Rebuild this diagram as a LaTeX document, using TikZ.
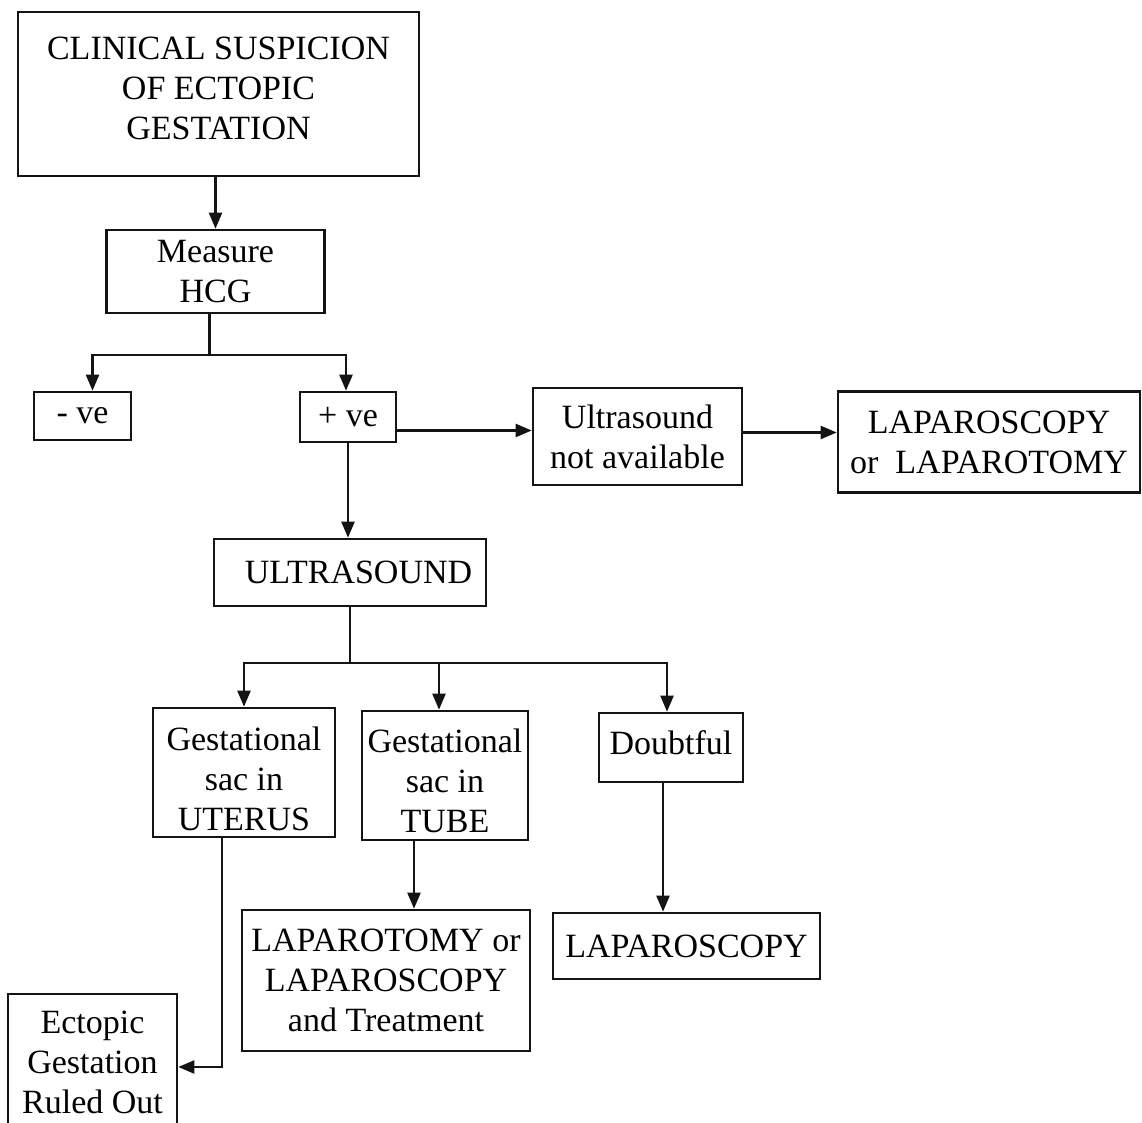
\documentclass[tikz,border=0pt]{standalone}
\usepackage{fontspec}
\setmainfont{Liberation Serif}
\usepackage{tikz}
\usetikzlibrary{arrows.meta,calc}
\newcommand{\lift}[1]{\rule[-#1]{0pt}{#1}}
\newcommand{\pushdown}[1]{\rule{0pt}{\dimexpr 11.6pt+#1\relax}}
\colorlet{flowLine}{black!92}
\tikzset{
  flowbox/.style={
    rectangle, draw=flowLine, line width=1.3pt,
    align=center, inner sep=0pt,
    font=\fontsize{17}{20}\selectfont
  },
  flowarrow/.style={-{Triangle[length=8pt,width=6.5pt]}, line width=1.1pt, draw=flowLine},
  flowline/.style={line width=1.1pt, draw=flowLine}
}

\begin{document}
\begin{tikzpicture}[x=0.5pt,y=-0.5pt]
  \path[use as bounding box, clip] (0,0) rectangle (1142,1123);

  \node[flowbox, minimum width=200.5pt, minimum height=82pt] (clin) at (218.5,94)
    {CLINICAL SUSPICION\\OF ECTOPIC\\GESTATION\lift{6pt}};
  \node[flowbox, minimum width=109pt, minimum height=41.5pt] (hcg) at (215.5,271.5)
    {Measure\\HCG};
  \node[flowbox, minimum width=48.5pt, minimum height=24pt] (neg) at (82.5,416)
    {- ve};
  \node[flowbox, minimum width=48pt, minimum height=25pt] (pos) at (348,417)
    {+ ve};
  \node[flowbox, minimum width=104.5pt, minimum height=48.5pt] (usna) at (637.5,436.5)
    {Ultrasound\\not available};
  \node[flowbox, minimum width=151pt, minimum height=50.5pt] (lapone) at (989,442)
    {LAPAROSCOPY\\or\ \ LAPAROTOMY};
  \node[flowbox, minimum width=136pt, minimum height=33.5pt] (us) at (350,572.5)
    {\ \ ULTRASOUND};
  \node[flowbox, minimum width=91pt, minimum height=64.5pt] (uter) at (244,772.5)
    {\pushdown{7pt}Gestational\\sac in\\UTERUS};
  \node[flowbox, minimum width=83pt, minimum height=64.5pt] (tube) at (445,775.5)
    {\pushdown{6pt}Gestational\\sac in\\TUBE};
  \node[flowbox, minimum width=72pt, minimum height=34.5pt] (doubt) at (671,747.5)
    {Doubtful\lift{5pt}};
  \node[flowbox, minimum width=144pt, minimum height=70.5pt] (lapt) at (386,980.5)
    {LAPAROTOMY or\\LAPAROSCOPY\\and Treatment};
  \node[flowbox, minimum width=133.5pt, minimum height=33pt] (lapsc) at (686.5,946)
    {LAPAROSCOPY};
  \node[flowbox, minimum width=84.5pt, minimum height=68pt] (ruled) at (92.5,1062)
    {Ectopic\\Gestation\\Ruled Out};

  \draw[flowarrow] (hcg.north |- clin.south) -- (hcg.north);
  \draw[flowline] ([xshift=-3pt]hcg.south) -- ++(0,41) coordinate (hcgfork);
  \draw[flowarrow] (hcgfork) -| ([xshift=5pt]neg.north);
  \draw[flowarrow] (hcgfork) -| ([xshift=-1pt]pos.north);
  \draw[flowarrow] ([yshift=3pt]pos.east |- usna.west) -- ([yshift=3pt]usna.west);
  \draw[flowarrow] ([yshift=2pt]usna.east) -- ([yshift=2pt]usna.east -| lapone.west);
  \draw[flowarrow] (pos.south) -- (pos.south |- us.north);
  \draw[flowline] (us.south) -- ++(0,56) coordinate (usfork);
  \draw[flowarrow] (usfork) -| (uter.north);
  \draw[flowarrow] (usfork) -| ([xshift=-3pt]tube.north);
  \draw[flowarrow] (usfork) -| ([xshift=-2pt]doubt.north);
  \draw[flowarrow] ([xshift=-15.5pt]tube.south) -- ([xshift=-15.5pt]tube.south |- lapt.north);
  \draw[flowarrow] ([xshift=-4pt]doubt.south) -- ([xshift=-4pt]doubt.south |- lapsc.north);
  \draw[flowarrow] ([xshift=-11pt]uter.south) |- ([yshift=-2.5pt]ruled.east);
\end{tikzpicture}
\end{document}
